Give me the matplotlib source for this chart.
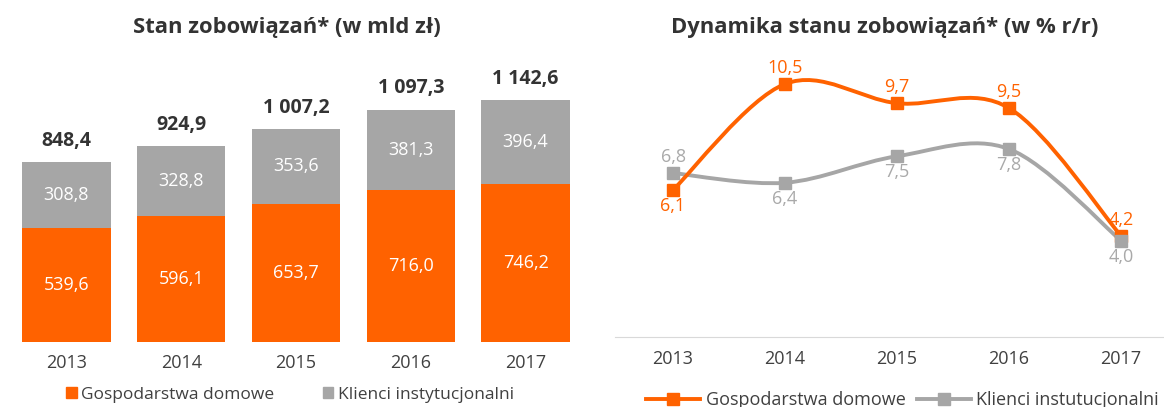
import matplotlib
matplotlib.use("Agg")
import matplotlib.pyplot as plt
from matplotlib.path import Path
from matplotlib.patches import PathPatch
from matplotlib.lines import Line2D
from matplotlib.patches import Patch

years = ["2013", "2014", "2015", "2016", "2017"]
households = [539.6, 596.1, 653.7, 716.0, 746.2]
institutional = [308.8, 328.8, 353.6, 381.3, 396.4]
totals = [848.4, 924.9, 1007.2, 1097.3, 1142.6]
dyn_households = [6.1, 10.5, 9.7, 9.5, 4.2]
dyn_institutional = [6.8, 6.4, 7.5, 7.8, 4.0]

ORANGE = "#FF6200"
GRAY = "#A6A6A6"
GRAY_TXT = "#A9A9A9"
DARK = "#333333"

plt.rcParams['font.family'] = ['Open Sans', 'DejaVu Sans']

W, H = 1164, 407
fig = plt.figure(figsize=(W / 100, H / 100), dpi=100)


def ax_px(x0, x1, ytop, ybot):
    return fig.add_axes([x0 / W, (H - ybot) / H, (x1 - x0) / W, (ybot - ytop) / H])


def fmt(v):
    s = f"{v:,.1f}".replace(",", " ").replace(".", ",")
    return s

FS = 13

# ---------------- left: stacked bars ----------------
ax1 = ax_px(9, 583, 60, 342)
x = list(range(len(years)))
ax1.bar(x, households, width=0.77, color=ORANGE)
ax1.bar(x, institutional, width=0.77, bottom=households, color=GRAY)
ax1.set_xlim(-0.5, 4.5)
ax1.set_ylim(0, 282 / 0.2118)
for i in x:
    ax1.text(i, households[i] / 2, fmt(households[i]), ha="center", va="center",
             color="white", fontsize=FS)
    ax1.text(i, households[i] + institutional[i] / 2, fmt(institutional[i]),
             ha="center", va="center", color="white", fontsize=FS)
    ax1.annotate(fmt(totals[i]), (i, totals[i]), xytext=(0, 8), textcoords="offset points",
                 ha="center", va="bottom", color=DARK, fontsize=14, fontweight="bold")
for s in ax1.spines.values():
    s.set_visible(False)
ax1.set_yticks([])
ax1.set_xticks(x)
ax1.set_xticklabels(years, fontsize=FS, color="#404040")
ax1.tick_params(axis="x", length=0, pad=9)
fig.text(287 / W, 1 - 27 / H, "Stan zobowiązań* (w mld zł)", ha="center", va="center",
         fontsize=15.8, fontweight="bold", color=DARK)

leg1 = fig.legend(handles=[Patch(color=ORANGE, label="Gospodarstwa domowe"),
                           Patch(color=GRAY, label="Klienci instytucjonalni")],
                  loc="center", bbox_to_anchor=(290 / W, 1 - 395 / H), ncol=2, frameon=False,
                  fontsize=12.5, handlelength=0.6, handleheight=0.6, handletextpad=0.25,
                  columnspacing=2.8, labelcolor="#404040")

# ---------------- right: smooth lines ----------------
ax2 = ax_px(615, 1164, 45, 337)
ax2.set_xlim(-0.518, 4.384)
ax2.set_ylim(0, 292 / 24.1)


def smooth_path(xs, ys):
    verts = [(xs[0], ys[0])]
    codes = [Path.MOVETO]
    n = len(xs)
    for i in range(n - 1):
        p0 = (xs[max(i - 1, 0)], ys[max(i - 1, 0)])
        p1 = (xs[i], ys[i])
        p2 = (xs[i + 1], ys[i + 1])
        p3 = (xs[min(i + 2, n - 1)], ys[min(i + 2, n - 1)])
        c1 = (p1[0] + (p2[0] - p0[0]) / 6, p1[1] + (p2[1] - p0[1]) / 6)
        c2 = (p2[0] - (p3[0] - p1[0]) / 6, p2[1] - (p3[1] - p1[1]) / 6)
        verts += [c1, c2, p2]
        codes += [Path.CURVE4] * 3
    return Path(verts, codes)


for ys, col in [(dyn_institutional, GRAY), (dyn_households, ORANGE)]:
    ax2.add_patch(PathPatch(smooth_path(x, ys), facecolor="none", edgecolor=col, lw=2.8,
                            capstyle="round", joinstyle="round", zorder=2))
for ys, col in [(dyn_households, ORANGE), (dyn_institutional, GRAY)]:
    ax2.plot(x, ys, ls="none", marker="s", ms=8.5, color=col, zorder=3)

# labels
pos_h = ["below", "above", "above", "above", "above"]
pos_i = ["above", "below", "below", "below", "below"]
for i in x:
    off = 5 if pos_h[i] == "above" else -5
    ax2.annotate(fmt(dyn_households[i]), (i, dyn_households[i]), xytext=(0, off),
                 textcoords="offset points", ha="center",
                 va="bottom" if off > 0 else "top", color=ORANGE, fontsize=FS)
    off = 5 if pos_i[i] == "above" else -5
    ax2.annotate(fmt(dyn_institutional[i]), (i, dyn_institutional[i]), xytext=(0, off),
                 textcoords="offset points", ha="center",
                 va="bottom" if off > 0 else "top", color=GRAY_TXT, fontsize=FS)

for k, s in ax2.spines.items():
    s.set_visible(k == "bottom")
ax2.spines["bottom"].set_color("#D9D9D9")
ax2.set_yticks([])
ax2.set_xticks(x)
ax2.set_xticklabels(years, fontsize=FS, color="#404040")
ax2.tick_params(axis="x", length=0, pad=9)
fig.text(885 / W, 1 - 27 / H, "Dynamika stanu zobowiązań* (w % r/r)", ha="center", va="center",
         fontsize=15.8, fontweight="bold", color=DARK)

leg2 = fig.legend(handles=[Line2D([], [], color=ORANGE, lw=2.8, marker="s", ms=8, label="Gospodarstwa domowe"),
                           Line2D([], [], color=GRAY, lw=2.8, marker="s", ms=8, label="Klienci instutucjonalni")],
                  loc="center left", bbox_to_anchor=(630 / W, 1 - 400 / H), ncol=2, frameon=False,
                  fontsize=FS, handlelength=3.0, handletextpad=0.3, columnspacing=0.6,
                  labelcolor="#404040")

fig.savefig("out.png", dpi=100)
